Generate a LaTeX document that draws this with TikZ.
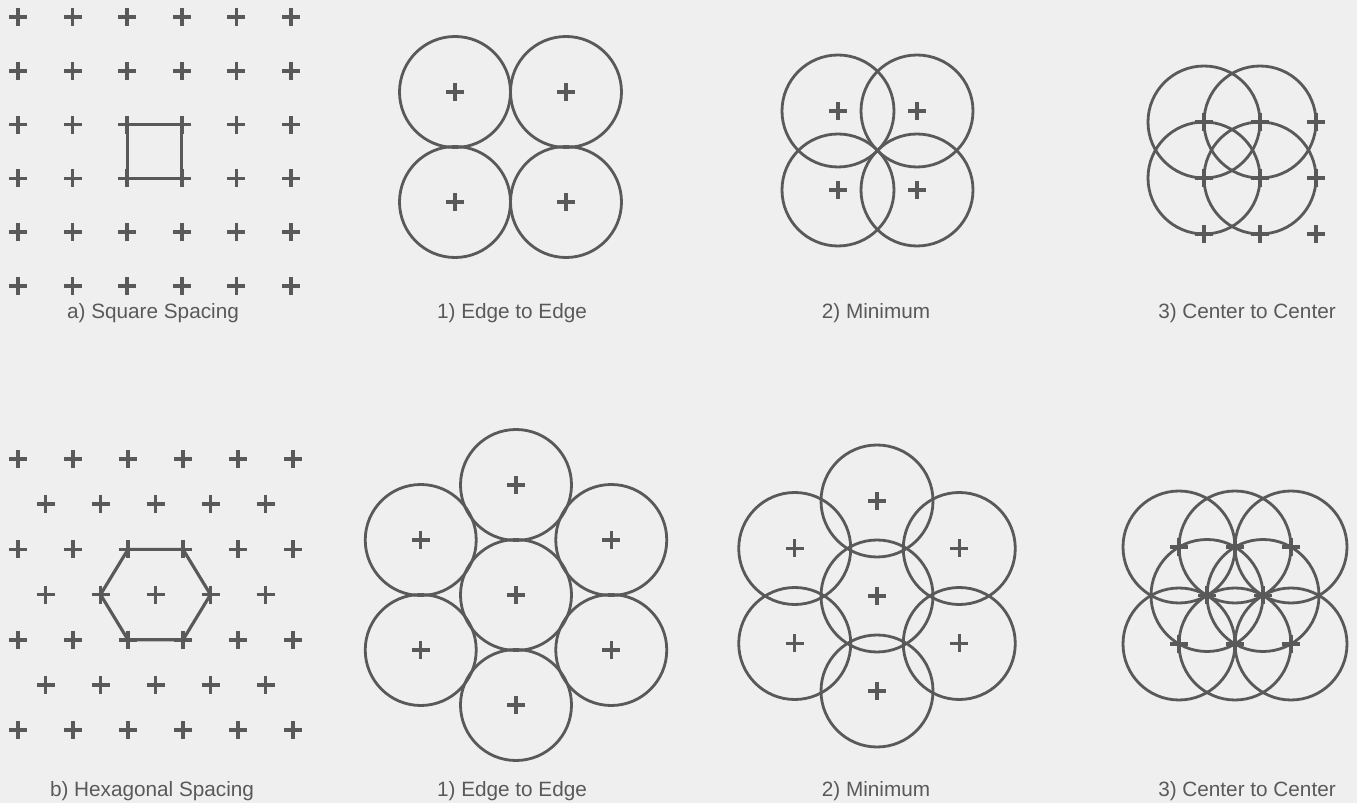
\documentclass[tikz,border=0pt]{standalone}
\usepackage{fontspec}
\setmainfont{Liberation Sans}
\usepackage{xcolor}
\usetikzlibrary{calc,positioning}

\definecolor{ink}{HTML}{595959}
\definecolor{paper}{HTML}{EFEFEF}

\tikzset{
  plus/.pic={
    \draw[mark line] (-9,0) -- (9,0) (0,-9) -- (0,9);
  }
}

\begin{document}
\begin{tikzpicture}[
  x=0.02cm, y=-0.02cm,
  mark line/.style={
    draw=ink,
    line width=2pt
  },
  ring/.style={
    draw=ink,
    line width=1.6pt
  },
  outline/.style={
    draw=ink,
    line width=1.8pt,
    line join=round
  },
  caption/.style={
    text=ink,
    font=\fontsize{11.8}{14}\selectfont,
    inner sep=0pt
  }
]

\fill[paper] (0,0) rectangle (1357,803);

% a) Square spacing
\foreach \i in {0,...,5}
  \foreach \j in {0,...,5}
    \pic at ({18+54.6*\i},{17+53.8*\j}) {plus};
\draw[outline] (127.2,124.6) rectangle (181.8,178.4);

% 1) Edge to edge (square)
\foreach \x in {455,566}
  \foreach \y in {92,202} {
    \draw[ring] (\x,\y) circle (55.5);
    \pic at (\x,\y) {plus};
  }

% 2) Minimum (square)
\foreach \x in {838,917}
  \foreach \y in {111,190} {
    \draw[ring] (\x,\y) circle (56);
    \pic at (\x,\y) {plus};
  }

% 3) Center to center (square)
\foreach \x in {1204,1260}
  \foreach \y in {122,178}
    \draw[ring] (\x,\y) circle (56);
\foreach \x in {1204,1260,1316}
  \foreach \y in {122,178,234}
    \pic at (\x,\y) {plus};

% b) Hexagonal spacing
\foreach \j in {0,2,4,6}
  \foreach \i in {0,...,5}
    \pic at ({18+55*\i},{459+45.2*\j}) {plus};
\foreach \j in {1,3,5}
  \foreach \i in {0,...,4}
    \pic at ({45.5+55*\i},{459+45.2*\j}) {plus};
\draw[outline] (128,549.4) -- (183,549.4) -- (210.5,594.6)
  -- (183,639.8) -- (128,639.8) -- (100.5,594.6) -- cycle;

% 1) Edge to edge (hex)
\draw[ring] (516,595) circle (55.5);
\pic at (516,595) {plus};
\foreach \a in {30,90,...,330} {
  \draw[ring] ($(516,595)+(\a:110)$) circle (55.5);
  \pic at ($(516,595)+(\a:110)$) {plus};
}

% 2) Minimum (hex)
\draw[ring] (877,596) circle (56);
\pic at (877,596) {plus};
\foreach \a in {30,90,...,330} {
  \draw[ring] ($(877,596)+(\a:95)$) circle (56);
  \pic at ($(877,596)+(\a:95)$) {plus};
}

% 3) Center to center (hex)
\foreach \p in {(1179,547),(1235,547),(1291,547),
                (1207,595.5),(1263,595.5),
                (1179,644),(1235,644),(1291,644)} {
  \draw[ring] \p circle (56);
  \pic at \p {plus};
}

% captions
\node[caption] (capA)  at (153,313) {a) Square Spacing};
\node[caption] (capA1) at (512,313) {1) Edge to Edge};
\node[caption] (capA2) at (876,313) {2) Minimum};
\node[caption] (capA3) at (1247,313) {3) Center to Center};
\node[caption] (capB)  at (152,791) {b) Hexagonal Spacing};
\node[caption] (capB1) at (512,791) {1) Edge to Edge};
\node[caption] (capB2) at (876,791) {2) Minimum};
\node[caption] (capB3) at (1247,791) {3) Center to Center};

\end{tikzpicture}
\end{document}
